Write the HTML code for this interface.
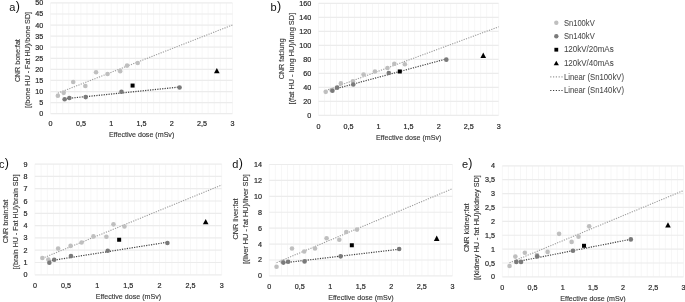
<!DOCTYPE html>
<html><head><meta charset="utf-8"><style>
html,body{margin:0;padding:0;background:#fff;width:685px;height:302px;overflow:hidden}
svg{display:block;font-family:"Liberation Sans",sans-serif;filter:blur(0.45px)}
</style></head><body>
<svg width="685" height="302" viewBox="0 0 685 302">
<rect width="685" height="302" fill="#fff"/>
<!-- chart a -->
<line x1="50.60" y1="2.90" x2="50.60" y2="113.70" stroke="#f7f7f7" stroke-width="1.0"/>
<line x1="56.66" y1="2.90" x2="56.66" y2="113.70" stroke="#f7f7f7" stroke-width="1.0"/>
<line x1="62.72" y1="2.90" x2="62.72" y2="113.70" stroke="#f7f7f7" stroke-width="1.0"/>
<line x1="68.78" y1="2.90" x2="68.78" y2="113.70" stroke="#f7f7f7" stroke-width="1.0"/>
<line x1="74.84" y1="2.90" x2="74.84" y2="113.70" stroke="#f7f7f7" stroke-width="1.0"/>
<line x1="80.90" y1="2.90" x2="80.90" y2="113.70" stroke="#f7f7f7" stroke-width="1.0"/>
<line x1="86.96" y1="2.90" x2="86.96" y2="113.70" stroke="#f7f7f7" stroke-width="1.0"/>
<line x1="93.02" y1="2.90" x2="93.02" y2="113.70" stroke="#f7f7f7" stroke-width="1.0"/>
<line x1="99.08" y1="2.90" x2="99.08" y2="113.70" stroke="#f7f7f7" stroke-width="1.0"/>
<line x1="105.14" y1="2.90" x2="105.14" y2="113.70" stroke="#f7f7f7" stroke-width="1.0"/>
<line x1="111.20" y1="2.90" x2="111.20" y2="113.70" stroke="#f7f7f7" stroke-width="1.0"/>
<line x1="117.26" y1="2.90" x2="117.26" y2="113.70" stroke="#f7f7f7" stroke-width="1.0"/>
<line x1="123.32" y1="2.90" x2="123.32" y2="113.70" stroke="#f7f7f7" stroke-width="1.0"/>
<line x1="129.38" y1="2.90" x2="129.38" y2="113.70" stroke="#f7f7f7" stroke-width="1.0"/>
<line x1="135.44" y1="2.90" x2="135.44" y2="113.70" stroke="#f7f7f7" stroke-width="1.0"/>
<line x1="141.50" y1="2.90" x2="141.50" y2="113.70" stroke="#f7f7f7" stroke-width="1.0"/>
<line x1="147.56" y1="2.90" x2="147.56" y2="113.70" stroke="#f7f7f7" stroke-width="1.0"/>
<line x1="153.62" y1="2.90" x2="153.62" y2="113.70" stroke="#f7f7f7" stroke-width="1.0"/>
<line x1="159.68" y1="2.90" x2="159.68" y2="113.70" stroke="#f7f7f7" stroke-width="1.0"/>
<line x1="165.74" y1="2.90" x2="165.74" y2="113.70" stroke="#f7f7f7" stroke-width="1.0"/>
<line x1="171.80" y1="2.90" x2="171.80" y2="113.70" stroke="#f7f7f7" stroke-width="1.0"/>
<line x1="177.86" y1="2.90" x2="177.86" y2="113.70" stroke="#f7f7f7" stroke-width="1.0"/>
<line x1="183.92" y1="2.90" x2="183.92" y2="113.70" stroke="#f7f7f7" stroke-width="1.0"/>
<line x1="189.98" y1="2.90" x2="189.98" y2="113.70" stroke="#f7f7f7" stroke-width="1.0"/>
<line x1="196.04" y1="2.90" x2="196.04" y2="113.70" stroke="#f7f7f7" stroke-width="1.0"/>
<line x1="202.10" y1="2.90" x2="202.10" y2="113.70" stroke="#f7f7f7" stroke-width="1.0"/>
<line x1="208.16" y1="2.90" x2="208.16" y2="113.70" stroke="#f7f7f7" stroke-width="1.0"/>
<line x1="214.22" y1="2.90" x2="214.22" y2="113.70" stroke="#f7f7f7" stroke-width="1.0"/>
<line x1="220.28" y1="2.90" x2="220.28" y2="113.70" stroke="#f7f7f7" stroke-width="1.0"/>
<line x1="226.34" y1="2.90" x2="226.34" y2="113.70" stroke="#f7f7f7" stroke-width="1.0"/>
<line x1="232.40" y1="2.90" x2="232.40" y2="113.70" stroke="#f7f7f7" stroke-width="1.0"/>
<line x1="50.60" y1="113.70" x2="232.40" y2="113.70" stroke="#ececec" stroke-width="1.2"/>
<text x="43.30" y="116.20" text-anchor="end" font-size="7.9" textLength="4.00" lengthAdjust="spacingAndGlyphs" fill="#2a2a2a" stroke="#2a2a2a" stroke-width="0.22">0</text>
<line x1="50.60" y1="102.62" x2="232.40" y2="102.62" stroke="#ececec" stroke-width="1.2"/>
<text x="43.30" y="105.12" text-anchor="end" font-size="7.9" textLength="4.00" lengthAdjust="spacingAndGlyphs" fill="#2a2a2a" stroke="#2a2a2a" stroke-width="0.22">5</text>
<line x1="50.60" y1="91.54" x2="232.40" y2="91.54" stroke="#ececec" stroke-width="1.2"/>
<text x="43.30" y="94.04" text-anchor="end" font-size="7.9" textLength="8.01" lengthAdjust="spacingAndGlyphs" fill="#2a2a2a" stroke="#2a2a2a" stroke-width="0.22">10</text>
<line x1="50.60" y1="80.46" x2="232.40" y2="80.46" stroke="#ececec" stroke-width="1.2"/>
<text x="43.30" y="82.96" text-anchor="end" font-size="7.9" textLength="8.01" lengthAdjust="spacingAndGlyphs" fill="#2a2a2a" stroke="#2a2a2a" stroke-width="0.22">15</text>
<line x1="50.60" y1="69.38" x2="232.40" y2="69.38" stroke="#ececec" stroke-width="1.2"/>
<text x="43.30" y="71.88" text-anchor="end" font-size="7.9" textLength="8.01" lengthAdjust="spacingAndGlyphs" fill="#2a2a2a" stroke="#2a2a2a" stroke-width="0.22">20</text>
<line x1="50.60" y1="58.30" x2="232.40" y2="58.30" stroke="#ececec" stroke-width="1.2"/>
<text x="43.30" y="60.80" text-anchor="end" font-size="7.9" textLength="8.01" lengthAdjust="spacingAndGlyphs" fill="#2a2a2a" stroke="#2a2a2a" stroke-width="0.22">25</text>
<line x1="50.60" y1="47.22" x2="232.40" y2="47.22" stroke="#ececec" stroke-width="1.2"/>
<text x="43.30" y="49.72" text-anchor="end" font-size="7.9" textLength="8.01" lengthAdjust="spacingAndGlyphs" fill="#2a2a2a" stroke="#2a2a2a" stroke-width="0.22">30</text>
<line x1="50.60" y1="36.14" x2="232.40" y2="36.14" stroke="#ececec" stroke-width="1.2"/>
<text x="43.30" y="38.64" text-anchor="end" font-size="7.9" textLength="8.01" lengthAdjust="spacingAndGlyphs" fill="#2a2a2a" stroke="#2a2a2a" stroke-width="0.22">35</text>
<line x1="50.60" y1="25.06" x2="232.40" y2="25.06" stroke="#ececec" stroke-width="1.2"/>
<text x="43.30" y="27.56" text-anchor="end" font-size="7.9" textLength="8.01" lengthAdjust="spacingAndGlyphs" fill="#2a2a2a" stroke="#2a2a2a" stroke-width="0.22">40</text>
<line x1="50.60" y1="13.98" x2="232.40" y2="13.98" stroke="#ececec" stroke-width="1.2"/>
<text x="43.30" y="16.48" text-anchor="end" font-size="7.9" textLength="8.01" lengthAdjust="spacingAndGlyphs" fill="#2a2a2a" stroke="#2a2a2a" stroke-width="0.22">45</text>
<line x1="50.60" y1="2.90" x2="232.40" y2="2.90" stroke="#ececec" stroke-width="1.2"/>
<text x="43.30" y="5.40" text-anchor="end" font-size="7.9" textLength="8.01" lengthAdjust="spacingAndGlyphs" fill="#2a2a2a" stroke="#2a2a2a" stroke-width="0.22">50</text>
<text x="50.60" y="126.10" text-anchor="middle" font-size="7.9" textLength="4.00" lengthAdjust="spacingAndGlyphs" fill="#2a2a2a" stroke="#2a2a2a" stroke-width="0.22">0</text>
<text x="80.90" y="126.10" text-anchor="middle" font-size="7.9" textLength="10.01" lengthAdjust="spacingAndGlyphs" fill="#2a2a2a" stroke="#2a2a2a" stroke-width="0.22">0,5</text>
<text x="111.20" y="126.10" text-anchor="middle" font-size="7.9" textLength="4.00" lengthAdjust="spacingAndGlyphs" fill="#2a2a2a" stroke="#2a2a2a" stroke-width="0.22">1</text>
<text x="141.50" y="126.10" text-anchor="middle" font-size="7.9" textLength="10.01" lengthAdjust="spacingAndGlyphs" fill="#2a2a2a" stroke="#2a2a2a" stroke-width="0.22">1,5</text>
<text x="171.80" y="126.10" text-anchor="middle" font-size="7.9" textLength="4.00" lengthAdjust="spacingAndGlyphs" fill="#2a2a2a" stroke="#2a2a2a" stroke-width="0.22">2</text>
<text x="202.10" y="126.10" text-anchor="middle" font-size="7.9" textLength="10.01" lengthAdjust="spacingAndGlyphs" fill="#2a2a2a" stroke="#2a2a2a" stroke-width="0.22">2,5</text>
<text x="232.40" y="126.10" text-anchor="middle" font-size="7.9" textLength="4.00" lengthAdjust="spacingAndGlyphs" fill="#2a2a2a" stroke="#2a2a2a" stroke-width="0.22">3</text>
<text x="108.90" y="137.20" textLength="65.4" lengthAdjust="spacingAndGlyphs" font-size="7.8" fill="#363636" stroke="#363636" stroke-width="0.14">Effective dose (mSv)</text>
<text transform="translate(20.00,82.10) rotate(-90)" textLength="42.9" lengthAdjust="spacingAndGlyphs" font-size="7.3" fill="#363636" stroke="#363636" stroke-width="0.14">CNR bone:fat</text>
<text transform="translate(30.00,108.10) rotate(-90)" textLength="96.2" lengthAdjust="spacingAndGlyphs" font-size="7.3" fill="#363636" stroke="#363636" stroke-width="0.14">[(bone HU - Fat HU)/bone SD]</text>
<line x1="57.87" y1="93.16" x2="232.40" y2="25.02" stroke="#9c9c9c" stroke-width="1.1" stroke-dasharray="1.2 1.25"/>
<line x1="64.66" y1="98.77" x2="179.56" y2="87.03" stroke="#404040" stroke-width="1.2" stroke-dasharray="1.2 1.25"/>
<circle cx="57.87" cy="95.75" r="2.3" fill="#bfbfbf"/>
<circle cx="63.69" cy="92.87" r="2.3" fill="#bfbfbf"/>
<circle cx="73.20" cy="82.01" r="2.3" fill="#bfbfbf"/>
<circle cx="85.32" cy="86.00" r="2.3" fill="#bfbfbf"/>
<circle cx="96.05" cy="72.26" r="2.3" fill="#bfbfbf"/>
<circle cx="107.56" cy="74.03" r="2.3" fill="#bfbfbf"/>
<circle cx="120.17" cy="71.15" r="2.3" fill="#bfbfbf"/>
<circle cx="127.08" cy="65.61" r="2.3" fill="#bfbfbf"/>
<circle cx="137.74" cy="62.95" r="2.3" fill="#bfbfbf"/>
<circle cx="64.66" cy="99.30" r="2.3" fill="#7a7a7a"/>
<circle cx="69.39" cy="97.97" r="2.3" fill="#7a7a7a"/>
<circle cx="85.69" cy="97.08" r="2.3" fill="#7a7a7a"/>
<circle cx="121.50" cy="91.76" r="2.3" fill="#7a7a7a"/>
<circle cx="179.56" cy="87.55" r="2.3" fill="#7a7a7a"/>
<rect x="130.59" y="83.56" width="4.0" height="4.0" fill="#000"/>
<polygon points="216.83,67.91 219.63,73.23 214.03,73.23" fill="#000"/>
<text x="9.30" y="10.60" font-size="11" fill="#111">a<tspan font-size="12.5" dx="0.3" dy="-0.3">)</tspan></text>
<!-- chart b -->
<line x1="318.50" y1="3.30" x2="318.50" y2="115.40" stroke="#f7f7f7" stroke-width="1.0"/>
<line x1="324.51" y1="3.30" x2="324.51" y2="115.40" stroke="#f7f7f7" stroke-width="1.0"/>
<line x1="330.51" y1="3.30" x2="330.51" y2="115.40" stroke="#f7f7f7" stroke-width="1.0"/>
<line x1="336.52" y1="3.30" x2="336.52" y2="115.40" stroke="#f7f7f7" stroke-width="1.0"/>
<line x1="342.53" y1="3.30" x2="342.53" y2="115.40" stroke="#f7f7f7" stroke-width="1.0"/>
<line x1="348.53" y1="3.30" x2="348.53" y2="115.40" stroke="#f7f7f7" stroke-width="1.0"/>
<line x1="354.54" y1="3.30" x2="354.54" y2="115.40" stroke="#f7f7f7" stroke-width="1.0"/>
<line x1="360.55" y1="3.30" x2="360.55" y2="115.40" stroke="#f7f7f7" stroke-width="1.0"/>
<line x1="366.55" y1="3.30" x2="366.55" y2="115.40" stroke="#f7f7f7" stroke-width="1.0"/>
<line x1="372.56" y1="3.30" x2="372.56" y2="115.40" stroke="#f7f7f7" stroke-width="1.0"/>
<line x1="378.57" y1="3.30" x2="378.57" y2="115.40" stroke="#f7f7f7" stroke-width="1.0"/>
<line x1="384.57" y1="3.30" x2="384.57" y2="115.40" stroke="#f7f7f7" stroke-width="1.0"/>
<line x1="390.58" y1="3.30" x2="390.58" y2="115.40" stroke="#f7f7f7" stroke-width="1.0"/>
<line x1="396.59" y1="3.30" x2="396.59" y2="115.40" stroke="#f7f7f7" stroke-width="1.0"/>
<line x1="402.59" y1="3.30" x2="402.59" y2="115.40" stroke="#f7f7f7" stroke-width="1.0"/>
<line x1="408.60" y1="3.30" x2="408.60" y2="115.40" stroke="#f7f7f7" stroke-width="1.0"/>
<line x1="414.61" y1="3.30" x2="414.61" y2="115.40" stroke="#f7f7f7" stroke-width="1.0"/>
<line x1="420.61" y1="3.30" x2="420.61" y2="115.40" stroke="#f7f7f7" stroke-width="1.0"/>
<line x1="426.62" y1="3.30" x2="426.62" y2="115.40" stroke="#f7f7f7" stroke-width="1.0"/>
<line x1="432.63" y1="3.30" x2="432.63" y2="115.40" stroke="#f7f7f7" stroke-width="1.0"/>
<line x1="438.63" y1="3.30" x2="438.63" y2="115.40" stroke="#f7f7f7" stroke-width="1.0"/>
<line x1="444.64" y1="3.30" x2="444.64" y2="115.40" stroke="#f7f7f7" stroke-width="1.0"/>
<line x1="450.65" y1="3.30" x2="450.65" y2="115.40" stroke="#f7f7f7" stroke-width="1.0"/>
<line x1="456.65" y1="3.30" x2="456.65" y2="115.40" stroke="#f7f7f7" stroke-width="1.0"/>
<line x1="462.66" y1="3.30" x2="462.66" y2="115.40" stroke="#f7f7f7" stroke-width="1.0"/>
<line x1="468.67" y1="3.30" x2="468.67" y2="115.40" stroke="#f7f7f7" stroke-width="1.0"/>
<line x1="474.67" y1="3.30" x2="474.67" y2="115.40" stroke="#f7f7f7" stroke-width="1.0"/>
<line x1="480.68" y1="3.30" x2="480.68" y2="115.40" stroke="#f7f7f7" stroke-width="1.0"/>
<line x1="486.69" y1="3.30" x2="486.69" y2="115.40" stroke="#f7f7f7" stroke-width="1.0"/>
<line x1="492.69" y1="3.30" x2="492.69" y2="115.40" stroke="#f7f7f7" stroke-width="1.0"/>
<line x1="498.70" y1="3.30" x2="498.70" y2="115.40" stroke="#f7f7f7" stroke-width="1.0"/>
<line x1="318.50" y1="115.40" x2="498.70" y2="115.40" stroke="#ececec" stroke-width="1.2"/>
<text x="311.20" y="117.90" text-anchor="end" font-size="7.9" textLength="4.00" lengthAdjust="spacingAndGlyphs" fill="#2a2a2a" stroke="#2a2a2a" stroke-width="0.22">0</text>
<line x1="318.50" y1="101.39" x2="498.70" y2="101.39" stroke="#ececec" stroke-width="1.2"/>
<text x="311.20" y="103.89" text-anchor="end" font-size="7.9" textLength="8.01" lengthAdjust="spacingAndGlyphs" fill="#2a2a2a" stroke="#2a2a2a" stroke-width="0.22">20</text>
<line x1="318.50" y1="87.38" x2="498.70" y2="87.38" stroke="#ececec" stroke-width="1.2"/>
<text x="311.20" y="89.88" text-anchor="end" font-size="7.9" textLength="8.01" lengthAdjust="spacingAndGlyphs" fill="#2a2a2a" stroke="#2a2a2a" stroke-width="0.22">40</text>
<line x1="318.50" y1="73.36" x2="498.70" y2="73.36" stroke="#ececec" stroke-width="1.2"/>
<text x="311.20" y="75.86" text-anchor="end" font-size="7.9" textLength="8.01" lengthAdjust="spacingAndGlyphs" fill="#2a2a2a" stroke="#2a2a2a" stroke-width="0.22">60</text>
<line x1="318.50" y1="59.35" x2="498.70" y2="59.35" stroke="#ececec" stroke-width="1.2"/>
<text x="311.20" y="61.85" text-anchor="end" font-size="7.9" textLength="8.01" lengthAdjust="spacingAndGlyphs" fill="#2a2a2a" stroke="#2a2a2a" stroke-width="0.22">80</text>
<line x1="318.50" y1="45.34" x2="498.70" y2="45.34" stroke="#ececec" stroke-width="1.2"/>
<text x="311.20" y="47.84" text-anchor="end" font-size="7.9" textLength="12.01" lengthAdjust="spacingAndGlyphs" fill="#2a2a2a" stroke="#2a2a2a" stroke-width="0.22">100</text>
<line x1="318.50" y1="31.33" x2="498.70" y2="31.33" stroke="#ececec" stroke-width="1.2"/>
<text x="311.20" y="33.83" text-anchor="end" font-size="7.9" textLength="12.01" lengthAdjust="spacingAndGlyphs" fill="#2a2a2a" stroke="#2a2a2a" stroke-width="0.22">120</text>
<line x1="318.50" y1="17.31" x2="498.70" y2="17.31" stroke="#ececec" stroke-width="1.2"/>
<text x="311.20" y="19.81" text-anchor="end" font-size="7.9" textLength="12.01" lengthAdjust="spacingAndGlyphs" fill="#2a2a2a" stroke="#2a2a2a" stroke-width="0.22">140</text>
<line x1="318.50" y1="3.30" x2="498.70" y2="3.30" stroke="#ececec" stroke-width="1.2"/>
<text x="311.20" y="5.80" text-anchor="end" font-size="7.9" textLength="12.01" lengthAdjust="spacingAndGlyphs" fill="#2a2a2a" stroke="#2a2a2a" stroke-width="0.22">160</text>
<text x="318.50" y="128.60" text-anchor="middle" font-size="7.9" textLength="4.00" lengthAdjust="spacingAndGlyphs" fill="#2a2a2a" stroke="#2a2a2a" stroke-width="0.22">0</text>
<text x="348.53" y="128.60" text-anchor="middle" font-size="7.9" textLength="10.01" lengthAdjust="spacingAndGlyphs" fill="#2a2a2a" stroke="#2a2a2a" stroke-width="0.22">0,5</text>
<text x="378.57" y="128.60" text-anchor="middle" font-size="7.9" textLength="4.00" lengthAdjust="spacingAndGlyphs" fill="#2a2a2a" stroke="#2a2a2a" stroke-width="0.22">1</text>
<text x="408.60" y="128.60" text-anchor="middle" font-size="7.9" textLength="10.01" lengthAdjust="spacingAndGlyphs" fill="#2a2a2a" stroke="#2a2a2a" stroke-width="0.22">1,5</text>
<text x="438.63" y="128.60" text-anchor="middle" font-size="7.9" textLength="4.00" lengthAdjust="spacingAndGlyphs" fill="#2a2a2a" stroke="#2a2a2a" stroke-width="0.22">2</text>
<text x="468.67" y="128.60" text-anchor="middle" font-size="7.9" textLength="10.01" lengthAdjust="spacingAndGlyphs" fill="#2a2a2a" stroke="#2a2a2a" stroke-width="0.22">2,5</text>
<text x="498.70" y="128.60" text-anchor="middle" font-size="7.9" textLength="4.00" lengthAdjust="spacingAndGlyphs" fill="#2a2a2a" stroke="#2a2a2a" stroke-width="0.22">3</text>
<text x="376.00" y="140.10" textLength="65.4" lengthAdjust="spacingAndGlyphs" font-size="7.8" fill="#363636" stroke="#363636" stroke-width="0.14">Effective dose (mSv)</text>
<text transform="translate(284.10,79.20) rotate(-90)" textLength="40.8" lengthAdjust="spacingAndGlyphs" font-size="7.3" fill="#363636" stroke="#363636" stroke-width="0.14">CNR fat:lung</text>
<text transform="translate(294.10,104.40) rotate(-90)" textLength="91.6" lengthAdjust="spacingAndGlyphs" font-size="7.3" fill="#363636" stroke="#363636" stroke-width="0.14">[(fat HU - lung HU)/lung SD]</text>
<line x1="325.71" y1="90.64" x2="498.70" y2="26.81" stroke="#9c9c9c" stroke-width="1.1" stroke-dasharray="1.2 1.25"/>
<line x1="332.44" y1="89.68" x2="446.32" y2="58.93" stroke="#404040" stroke-width="1.2" stroke-dasharray="1.2 1.25"/>
<circle cx="325.71" cy="91.86" r="2.3" fill="#bfbfbf"/>
<circle cx="331.47" cy="89.97" r="2.3" fill="#bfbfbf"/>
<circle cx="340.90" cy="83.38" r="2.3" fill="#bfbfbf"/>
<circle cx="352.92" cy="81.28" r="2.3" fill="#bfbfbf"/>
<circle cx="363.55" cy="74.48" r="2.3" fill="#bfbfbf"/>
<circle cx="374.96" cy="71.54" r="2.3" fill="#bfbfbf"/>
<circle cx="387.46" cy="68.04" r="2.3" fill="#bfbfbf"/>
<circle cx="394.30" cy="63.76" r="2.3" fill="#bfbfbf"/>
<circle cx="404.88" cy="64.25" r="2.3" fill="#bfbfbf"/>
<circle cx="332.44" cy="90.81" r="2.3" fill="#7a7a7a"/>
<circle cx="337.12" cy="87.66" r="2.3" fill="#7a7a7a"/>
<circle cx="353.28" cy="84.50" r="2.3" fill="#7a7a7a"/>
<circle cx="388.78" cy="72.94" r="2.3" fill="#7a7a7a"/>
<circle cx="446.32" cy="59.63" r="2.3" fill="#7a7a7a"/>
<rect x="397.77" y="69.47" width="4.0" height="4.0" fill="#000"/>
<polygon points="483.26,52.56 486.06,57.88 480.46,57.88" fill="#000"/>
<text x="270.50" y="10.50" font-size="11" fill="#111">b<tspan font-size="12.5" dx="0.3" dy="-0.3">)</tspan></text>
<!-- chart c -->
<line x1="34.90" y1="164.10" x2="34.90" y2="274.80" stroke="#f7f7f7" stroke-width="1.0"/>
<line x1="41.13" y1="164.10" x2="41.13" y2="274.80" stroke="#f7f7f7" stroke-width="1.0"/>
<line x1="47.35" y1="164.10" x2="47.35" y2="274.80" stroke="#f7f7f7" stroke-width="1.0"/>
<line x1="53.58" y1="164.10" x2="53.58" y2="274.80" stroke="#f7f7f7" stroke-width="1.0"/>
<line x1="59.81" y1="164.10" x2="59.81" y2="274.80" stroke="#f7f7f7" stroke-width="1.0"/>
<line x1="66.03" y1="164.10" x2="66.03" y2="274.80" stroke="#f7f7f7" stroke-width="1.0"/>
<line x1="72.26" y1="164.10" x2="72.26" y2="274.80" stroke="#f7f7f7" stroke-width="1.0"/>
<line x1="78.49" y1="164.10" x2="78.49" y2="274.80" stroke="#f7f7f7" stroke-width="1.0"/>
<line x1="84.71" y1="164.10" x2="84.71" y2="274.80" stroke="#f7f7f7" stroke-width="1.0"/>
<line x1="90.94" y1="164.10" x2="90.94" y2="274.80" stroke="#f7f7f7" stroke-width="1.0"/>
<line x1="97.17" y1="164.10" x2="97.17" y2="274.80" stroke="#f7f7f7" stroke-width="1.0"/>
<line x1="103.39" y1="164.10" x2="103.39" y2="274.80" stroke="#f7f7f7" stroke-width="1.0"/>
<line x1="109.62" y1="164.10" x2="109.62" y2="274.80" stroke="#f7f7f7" stroke-width="1.0"/>
<line x1="115.85" y1="164.10" x2="115.85" y2="274.80" stroke="#f7f7f7" stroke-width="1.0"/>
<line x1="122.07" y1="164.10" x2="122.07" y2="274.80" stroke="#f7f7f7" stroke-width="1.0"/>
<line x1="128.30" y1="164.10" x2="128.30" y2="274.80" stroke="#f7f7f7" stroke-width="1.0"/>
<line x1="134.53" y1="164.10" x2="134.53" y2="274.80" stroke="#f7f7f7" stroke-width="1.0"/>
<line x1="140.75" y1="164.10" x2="140.75" y2="274.80" stroke="#f7f7f7" stroke-width="1.0"/>
<line x1="146.98" y1="164.10" x2="146.98" y2="274.80" stroke="#f7f7f7" stroke-width="1.0"/>
<line x1="153.21" y1="164.10" x2="153.21" y2="274.80" stroke="#f7f7f7" stroke-width="1.0"/>
<line x1="159.43" y1="164.10" x2="159.43" y2="274.80" stroke="#f7f7f7" stroke-width="1.0"/>
<line x1="165.66" y1="164.10" x2="165.66" y2="274.80" stroke="#f7f7f7" stroke-width="1.0"/>
<line x1="171.89" y1="164.10" x2="171.89" y2="274.80" stroke="#f7f7f7" stroke-width="1.0"/>
<line x1="178.11" y1="164.10" x2="178.11" y2="274.80" stroke="#f7f7f7" stroke-width="1.0"/>
<line x1="184.34" y1="164.10" x2="184.34" y2="274.80" stroke="#f7f7f7" stroke-width="1.0"/>
<line x1="190.57" y1="164.10" x2="190.57" y2="274.80" stroke="#f7f7f7" stroke-width="1.0"/>
<line x1="196.79" y1="164.10" x2="196.79" y2="274.80" stroke="#f7f7f7" stroke-width="1.0"/>
<line x1="203.02" y1="164.10" x2="203.02" y2="274.80" stroke="#f7f7f7" stroke-width="1.0"/>
<line x1="209.25" y1="164.10" x2="209.25" y2="274.80" stroke="#f7f7f7" stroke-width="1.0"/>
<line x1="215.47" y1="164.10" x2="215.47" y2="274.80" stroke="#f7f7f7" stroke-width="1.0"/>
<line x1="221.70" y1="164.10" x2="221.70" y2="274.80" stroke="#f7f7f7" stroke-width="1.0"/>
<line x1="34.90" y1="274.80" x2="221.70" y2="274.80" stroke="#ececec" stroke-width="1.2"/>
<text x="27.60" y="277.30" text-anchor="end" font-size="7.9" textLength="4.00" lengthAdjust="spacingAndGlyphs" fill="#2a2a2a" stroke="#2a2a2a" stroke-width="0.22">0</text>
<line x1="34.90" y1="262.50" x2="221.70" y2="262.50" stroke="#ececec" stroke-width="1.2"/>
<text x="27.60" y="265.00" text-anchor="end" font-size="7.9" textLength="4.00" lengthAdjust="spacingAndGlyphs" fill="#2a2a2a" stroke="#2a2a2a" stroke-width="0.22">1</text>
<line x1="34.90" y1="250.20" x2="221.70" y2="250.20" stroke="#ececec" stroke-width="1.2"/>
<text x="27.60" y="252.70" text-anchor="end" font-size="7.9" textLength="4.00" lengthAdjust="spacingAndGlyphs" fill="#2a2a2a" stroke="#2a2a2a" stroke-width="0.22">2</text>
<line x1="34.90" y1="237.90" x2="221.70" y2="237.90" stroke="#ececec" stroke-width="1.2"/>
<text x="27.60" y="240.40" text-anchor="end" font-size="7.9" textLength="4.00" lengthAdjust="spacingAndGlyphs" fill="#2a2a2a" stroke="#2a2a2a" stroke-width="0.22">3</text>
<line x1="34.90" y1="225.60" x2="221.70" y2="225.60" stroke="#ececec" stroke-width="1.2"/>
<text x="27.60" y="228.10" text-anchor="end" font-size="7.9" textLength="4.00" lengthAdjust="spacingAndGlyphs" fill="#2a2a2a" stroke="#2a2a2a" stroke-width="0.22">4</text>
<line x1="34.90" y1="213.30" x2="221.70" y2="213.30" stroke="#ececec" stroke-width="1.2"/>
<text x="27.60" y="215.80" text-anchor="end" font-size="7.9" textLength="4.00" lengthAdjust="spacingAndGlyphs" fill="#2a2a2a" stroke="#2a2a2a" stroke-width="0.22">5</text>
<line x1="34.90" y1="201.00" x2="221.70" y2="201.00" stroke="#ececec" stroke-width="1.2"/>
<text x="27.60" y="203.50" text-anchor="end" font-size="7.9" textLength="4.00" lengthAdjust="spacingAndGlyphs" fill="#2a2a2a" stroke="#2a2a2a" stroke-width="0.22">6</text>
<line x1="34.90" y1="188.70" x2="221.70" y2="188.70" stroke="#ececec" stroke-width="1.2"/>
<text x="27.60" y="191.20" text-anchor="end" font-size="7.9" textLength="4.00" lengthAdjust="spacingAndGlyphs" fill="#2a2a2a" stroke="#2a2a2a" stroke-width="0.22">7</text>
<line x1="34.90" y1="176.40" x2="221.70" y2="176.40" stroke="#ececec" stroke-width="1.2"/>
<text x="27.60" y="178.90" text-anchor="end" font-size="7.9" textLength="4.00" lengthAdjust="spacingAndGlyphs" fill="#2a2a2a" stroke="#2a2a2a" stroke-width="0.22">8</text>
<line x1="34.90" y1="164.10" x2="221.70" y2="164.10" stroke="#ececec" stroke-width="1.2"/>
<text x="27.60" y="166.60" text-anchor="end" font-size="7.9" textLength="4.00" lengthAdjust="spacingAndGlyphs" fill="#2a2a2a" stroke="#2a2a2a" stroke-width="0.22">9</text>
<text x="34.90" y="287.60" text-anchor="middle" font-size="7.9" textLength="4.00" lengthAdjust="spacingAndGlyphs" fill="#2a2a2a" stroke="#2a2a2a" stroke-width="0.22">0</text>
<text x="66.03" y="287.60" text-anchor="middle" font-size="7.9" textLength="10.01" lengthAdjust="spacingAndGlyphs" fill="#2a2a2a" stroke="#2a2a2a" stroke-width="0.22">0,5</text>
<text x="97.17" y="287.60" text-anchor="middle" font-size="7.9" textLength="4.00" lengthAdjust="spacingAndGlyphs" fill="#2a2a2a" stroke="#2a2a2a" stroke-width="0.22">1</text>
<text x="128.30" y="287.60" text-anchor="middle" font-size="7.9" textLength="10.01" lengthAdjust="spacingAndGlyphs" fill="#2a2a2a" stroke="#2a2a2a" stroke-width="0.22">1,5</text>
<text x="159.43" y="287.60" text-anchor="middle" font-size="7.9" textLength="4.00" lengthAdjust="spacingAndGlyphs" fill="#2a2a2a" stroke="#2a2a2a" stroke-width="0.22">2</text>
<text x="190.57" y="287.60" text-anchor="middle" font-size="7.9" textLength="10.01" lengthAdjust="spacingAndGlyphs" fill="#2a2a2a" stroke="#2a2a2a" stroke-width="0.22">2,5</text>
<text x="221.70" y="287.60" text-anchor="middle" font-size="7.9" textLength="4.00" lengthAdjust="spacingAndGlyphs" fill="#2a2a2a" stroke="#2a2a2a" stroke-width="0.22">3</text>
<text x="95.70" y="298.90" textLength="65.4" lengthAdjust="spacingAndGlyphs" font-size="7.8" fill="#363636" stroke="#363636" stroke-width="0.14">Effective dose (mSv)</text>
<text transform="translate(7.90,243.30) rotate(-90)" textLength="43.6" lengthAdjust="spacingAndGlyphs" font-size="7.3" fill="#363636" stroke="#363636" stroke-width="0.14">CNR brain:fat</text>
<text transform="translate(18.40,269.40) rotate(-90)" textLength="95.1" lengthAdjust="spacingAndGlyphs" font-size="7.3" fill="#363636" stroke="#363636" stroke-width="0.14">[(brain HU - Fat HU)/brain SD]</text>
<line x1="42.37" y1="258.27" x2="221.70" y2="184.99" stroke="#9c9c9c" stroke-width="1.1" stroke-dasharray="1.2 1.25"/>
<line x1="49.35" y1="260.87" x2="167.40" y2="242.21" stroke="#404040" stroke-width="1.2" stroke-dasharray="1.2 1.25"/>
<circle cx="42.37" cy="258.07" r="2.3" fill="#bfbfbf"/>
<circle cx="48.35" cy="259.43" r="2.3" fill="#bfbfbf"/>
<circle cx="58.13" cy="248.48" r="2.3" fill="#bfbfbf"/>
<circle cx="70.58" cy="245.90" r="2.3" fill="#bfbfbf"/>
<circle cx="81.60" cy="242.45" r="2.3" fill="#bfbfbf"/>
<circle cx="93.43" cy="236.42" r="2.3" fill="#bfbfbf"/>
<circle cx="106.38" cy="236.79" r="2.3" fill="#bfbfbf"/>
<circle cx="113.48" cy="224.37" r="2.3" fill="#bfbfbf"/>
<circle cx="124.44" cy="226.46" r="2.3" fill="#bfbfbf"/>
<circle cx="49.35" cy="262.75" r="2.3" fill="#7a7a7a"/>
<circle cx="54.20" cy="259.79" r="2.3" fill="#7a7a7a"/>
<circle cx="70.95" cy="256.10" r="2.3" fill="#7a7a7a"/>
<circle cx="107.75" cy="250.69" r="2.3" fill="#7a7a7a"/>
<circle cx="167.40" cy="242.94" r="2.3" fill="#7a7a7a"/>
<rect x="117.15" y="237.75" width="4.0" height="4.0" fill="#000"/>
<polygon points="205.70,218.99 208.50,224.31 202.90,224.31" fill="#000"/>
<text x="-1.00" y="167.50" font-size="11" fill="#111">c<tspan font-size="12.5" dx="0.3" dy="-0.3">)</tspan></text>
<!-- chart d -->
<line x1="269.20" y1="164.50" x2="269.20" y2="275.90" stroke="#f7f7f7" stroke-width="1.0"/>
<line x1="275.31" y1="164.50" x2="275.31" y2="275.90" stroke="#f7f7f7" stroke-width="1.0"/>
<line x1="281.41" y1="164.50" x2="281.41" y2="275.90" stroke="#f7f7f7" stroke-width="1.0"/>
<line x1="287.52" y1="164.50" x2="287.52" y2="275.90" stroke="#f7f7f7" stroke-width="1.0"/>
<line x1="293.63" y1="164.50" x2="293.63" y2="275.90" stroke="#f7f7f7" stroke-width="1.0"/>
<line x1="299.73" y1="164.50" x2="299.73" y2="275.90" stroke="#f7f7f7" stroke-width="1.0"/>
<line x1="305.84" y1="164.50" x2="305.84" y2="275.90" stroke="#f7f7f7" stroke-width="1.0"/>
<line x1="311.95" y1="164.50" x2="311.95" y2="275.90" stroke="#f7f7f7" stroke-width="1.0"/>
<line x1="318.05" y1="164.50" x2="318.05" y2="275.90" stroke="#f7f7f7" stroke-width="1.0"/>
<line x1="324.16" y1="164.50" x2="324.16" y2="275.90" stroke="#f7f7f7" stroke-width="1.0"/>
<line x1="330.27" y1="164.50" x2="330.27" y2="275.90" stroke="#f7f7f7" stroke-width="1.0"/>
<line x1="336.37" y1="164.50" x2="336.37" y2="275.90" stroke="#f7f7f7" stroke-width="1.0"/>
<line x1="342.48" y1="164.50" x2="342.48" y2="275.90" stroke="#f7f7f7" stroke-width="1.0"/>
<line x1="348.59" y1="164.50" x2="348.59" y2="275.90" stroke="#f7f7f7" stroke-width="1.0"/>
<line x1="354.69" y1="164.50" x2="354.69" y2="275.90" stroke="#f7f7f7" stroke-width="1.0"/>
<line x1="360.80" y1="164.50" x2="360.80" y2="275.90" stroke="#f7f7f7" stroke-width="1.0"/>
<line x1="366.91" y1="164.50" x2="366.91" y2="275.90" stroke="#f7f7f7" stroke-width="1.0"/>
<line x1="373.01" y1="164.50" x2="373.01" y2="275.90" stroke="#f7f7f7" stroke-width="1.0"/>
<line x1="379.12" y1="164.50" x2="379.12" y2="275.90" stroke="#f7f7f7" stroke-width="1.0"/>
<line x1="385.23" y1="164.50" x2="385.23" y2="275.90" stroke="#f7f7f7" stroke-width="1.0"/>
<line x1="391.33" y1="164.50" x2="391.33" y2="275.90" stroke="#f7f7f7" stroke-width="1.0"/>
<line x1="397.44" y1="164.50" x2="397.44" y2="275.90" stroke="#f7f7f7" stroke-width="1.0"/>
<line x1="403.55" y1="164.50" x2="403.55" y2="275.90" stroke="#f7f7f7" stroke-width="1.0"/>
<line x1="409.65" y1="164.50" x2="409.65" y2="275.90" stroke="#f7f7f7" stroke-width="1.0"/>
<line x1="415.76" y1="164.50" x2="415.76" y2="275.90" stroke="#f7f7f7" stroke-width="1.0"/>
<line x1="421.87" y1="164.50" x2="421.87" y2="275.90" stroke="#f7f7f7" stroke-width="1.0"/>
<line x1="427.97" y1="164.50" x2="427.97" y2="275.90" stroke="#f7f7f7" stroke-width="1.0"/>
<line x1="434.08" y1="164.50" x2="434.08" y2="275.90" stroke="#f7f7f7" stroke-width="1.0"/>
<line x1="440.19" y1="164.50" x2="440.19" y2="275.90" stroke="#f7f7f7" stroke-width="1.0"/>
<line x1="446.29" y1="164.50" x2="446.29" y2="275.90" stroke="#f7f7f7" stroke-width="1.0"/>
<line x1="452.40" y1="164.50" x2="452.40" y2="275.90" stroke="#f7f7f7" stroke-width="1.0"/>
<line x1="269.20" y1="275.90" x2="452.40" y2="275.90" stroke="#ececec" stroke-width="1.2"/>
<text x="261.90" y="278.40" text-anchor="end" font-size="7.9" textLength="4.00" lengthAdjust="spacingAndGlyphs" fill="#2a2a2a" stroke="#2a2a2a" stroke-width="0.22">0</text>
<line x1="269.20" y1="259.99" x2="452.40" y2="259.99" stroke="#ececec" stroke-width="1.2"/>
<text x="261.90" y="262.49" text-anchor="end" font-size="7.9" textLength="4.00" lengthAdjust="spacingAndGlyphs" fill="#2a2a2a" stroke="#2a2a2a" stroke-width="0.22">2</text>
<line x1="269.20" y1="244.07" x2="452.40" y2="244.07" stroke="#ececec" stroke-width="1.2"/>
<text x="261.90" y="246.57" text-anchor="end" font-size="7.9" textLength="4.00" lengthAdjust="spacingAndGlyphs" fill="#2a2a2a" stroke="#2a2a2a" stroke-width="0.22">4</text>
<line x1="269.20" y1="228.16" x2="452.40" y2="228.16" stroke="#ececec" stroke-width="1.2"/>
<text x="261.90" y="230.66" text-anchor="end" font-size="7.9" textLength="4.00" lengthAdjust="spacingAndGlyphs" fill="#2a2a2a" stroke="#2a2a2a" stroke-width="0.22">6</text>
<line x1="269.20" y1="212.24" x2="452.40" y2="212.24" stroke="#ececec" stroke-width="1.2"/>
<text x="261.90" y="214.74" text-anchor="end" font-size="7.9" textLength="4.00" lengthAdjust="spacingAndGlyphs" fill="#2a2a2a" stroke="#2a2a2a" stroke-width="0.22">8</text>
<line x1="269.20" y1="196.33" x2="452.40" y2="196.33" stroke="#ececec" stroke-width="1.2"/>
<text x="261.90" y="198.83" text-anchor="end" font-size="7.9" textLength="8.01" lengthAdjust="spacingAndGlyphs" fill="#2a2a2a" stroke="#2a2a2a" stroke-width="0.22">10</text>
<line x1="269.20" y1="180.41" x2="452.40" y2="180.41" stroke="#ececec" stroke-width="1.2"/>
<text x="261.90" y="182.91" text-anchor="end" font-size="7.9" textLength="8.01" lengthAdjust="spacingAndGlyphs" fill="#2a2a2a" stroke="#2a2a2a" stroke-width="0.22">12</text>
<line x1="269.20" y1="164.50" x2="452.40" y2="164.50" stroke="#ececec" stroke-width="1.2"/>
<text x="261.90" y="167.00" text-anchor="end" font-size="7.9" textLength="8.01" lengthAdjust="spacingAndGlyphs" fill="#2a2a2a" stroke="#2a2a2a" stroke-width="0.22">14</text>
<text x="269.20" y="288.70" text-anchor="middle" font-size="7.9" textLength="4.00" lengthAdjust="spacingAndGlyphs" fill="#2a2a2a" stroke="#2a2a2a" stroke-width="0.22">0</text>
<text x="299.73" y="288.70" text-anchor="middle" font-size="7.9" textLength="10.01" lengthAdjust="spacingAndGlyphs" fill="#2a2a2a" stroke="#2a2a2a" stroke-width="0.22">0,5</text>
<text x="330.27" y="288.70" text-anchor="middle" font-size="7.9" textLength="4.00" lengthAdjust="spacingAndGlyphs" fill="#2a2a2a" stroke="#2a2a2a" stroke-width="0.22">1</text>
<text x="360.80" y="288.70" text-anchor="middle" font-size="7.9" textLength="10.01" lengthAdjust="spacingAndGlyphs" fill="#2a2a2a" stroke="#2a2a2a" stroke-width="0.22">1,5</text>
<text x="391.33" y="288.70" text-anchor="middle" font-size="7.9" textLength="4.00" lengthAdjust="spacingAndGlyphs" fill="#2a2a2a" stroke="#2a2a2a" stroke-width="0.22">2</text>
<text x="421.87" y="288.70" text-anchor="middle" font-size="7.9" textLength="10.01" lengthAdjust="spacingAndGlyphs" fill="#2a2a2a" stroke="#2a2a2a" stroke-width="0.22">2,5</text>
<text x="452.40" y="288.70" text-anchor="middle" font-size="7.9" textLength="4.00" lengthAdjust="spacingAndGlyphs" fill="#2a2a2a" stroke="#2a2a2a" stroke-width="0.22">3</text>
<text x="328.20" y="300.00" textLength="65.4" lengthAdjust="spacingAndGlyphs" font-size="7.8" fill="#363636" stroke="#363636" stroke-width="0.14">Effective dose (mSv)</text>
<text transform="translate(238.20,239.40) rotate(-90)" textLength="40.9" lengthAdjust="spacingAndGlyphs" font-size="7.3" fill="#363636" stroke="#363636" stroke-width="0.14">CNR liver:fat</text>
<text transform="translate(247.80,264.10) rotate(-90)" textLength="89.8" lengthAdjust="spacingAndGlyphs" font-size="7.3" fill="#363636" stroke="#363636" stroke-width="0.14">[(liver HU - fat HU)/liver SD]</text>
<line x1="276.53" y1="262.68" x2="452.40" y2="188.70" stroke="#9c9c9c" stroke-width="1.1" stroke-dasharray="1.2 1.25"/>
<line x1="283.37" y1="262.92" x2="399.15" y2="249.25" stroke="#404040" stroke-width="1.2" stroke-dasharray="1.2 1.25"/>
<circle cx="276.53" cy="266.75" r="2.3" fill="#bfbfbf"/>
<circle cx="282.39" cy="261.74" r="2.3" fill="#bfbfbf"/>
<circle cx="291.98" cy="248.53" r="2.3" fill="#bfbfbf"/>
<circle cx="304.19" cy="251.55" r="2.3" fill="#bfbfbf"/>
<circle cx="315.00" cy="248.53" r="2.3" fill="#bfbfbf"/>
<circle cx="326.60" cy="238.26" r="2.3" fill="#bfbfbf"/>
<circle cx="339.30" cy="239.77" r="2.3" fill="#bfbfbf"/>
<circle cx="346.27" cy="231.98" r="2.3" fill="#bfbfbf"/>
<circle cx="357.01" cy="229.59" r="2.3" fill="#bfbfbf"/>
<circle cx="283.37" cy="262.61" r="2.3" fill="#7a7a7a"/>
<circle cx="288.13" cy="261.74" r="2.3" fill="#7a7a7a"/>
<circle cx="304.56" cy="261.42" r="2.3" fill="#7a7a7a"/>
<circle cx="340.65" cy="256.33" r="2.3" fill="#7a7a7a"/>
<circle cx="399.15" cy="249.00" r="2.3" fill="#7a7a7a"/>
<rect x="349.82" y="243.26" width="4.0" height="4.0" fill="#000"/>
<polygon points="436.71,235.62 439.51,240.94 433.91,240.94" fill="#000"/>
<text x="232.30" y="167.50" font-size="11" fill="#111">d<tspan font-size="12.5" dx="0.3" dy="-0.3">)</tspan></text>
<!-- chart e -->
<line x1="502.30" y1="165.80" x2="502.30" y2="276.90" stroke="#f7f7f7" stroke-width="1.0"/>
<line x1="508.34" y1="165.80" x2="508.34" y2="276.90" stroke="#f7f7f7" stroke-width="1.0"/>
<line x1="514.38" y1="165.80" x2="514.38" y2="276.90" stroke="#f7f7f7" stroke-width="1.0"/>
<line x1="520.42" y1="165.80" x2="520.42" y2="276.90" stroke="#f7f7f7" stroke-width="1.0"/>
<line x1="526.46" y1="165.80" x2="526.46" y2="276.90" stroke="#f7f7f7" stroke-width="1.0"/>
<line x1="532.50" y1="165.80" x2="532.50" y2="276.90" stroke="#f7f7f7" stroke-width="1.0"/>
<line x1="538.54" y1="165.80" x2="538.54" y2="276.90" stroke="#f7f7f7" stroke-width="1.0"/>
<line x1="544.58" y1="165.80" x2="544.58" y2="276.90" stroke="#f7f7f7" stroke-width="1.0"/>
<line x1="550.62" y1="165.80" x2="550.62" y2="276.90" stroke="#f7f7f7" stroke-width="1.0"/>
<line x1="556.66" y1="165.80" x2="556.66" y2="276.90" stroke="#f7f7f7" stroke-width="1.0"/>
<line x1="562.70" y1="165.80" x2="562.70" y2="276.90" stroke="#f7f7f7" stroke-width="1.0"/>
<line x1="568.74" y1="165.80" x2="568.74" y2="276.90" stroke="#f7f7f7" stroke-width="1.0"/>
<line x1="574.78" y1="165.80" x2="574.78" y2="276.90" stroke="#f7f7f7" stroke-width="1.0"/>
<line x1="580.82" y1="165.80" x2="580.82" y2="276.90" stroke="#f7f7f7" stroke-width="1.0"/>
<line x1="586.86" y1="165.80" x2="586.86" y2="276.90" stroke="#f7f7f7" stroke-width="1.0"/>
<line x1="592.90" y1="165.80" x2="592.90" y2="276.90" stroke="#f7f7f7" stroke-width="1.0"/>
<line x1="598.94" y1="165.80" x2="598.94" y2="276.90" stroke="#f7f7f7" stroke-width="1.0"/>
<line x1="604.98" y1="165.80" x2="604.98" y2="276.90" stroke="#f7f7f7" stroke-width="1.0"/>
<line x1="611.02" y1="165.80" x2="611.02" y2="276.90" stroke="#f7f7f7" stroke-width="1.0"/>
<line x1="617.06" y1="165.80" x2="617.06" y2="276.90" stroke="#f7f7f7" stroke-width="1.0"/>
<line x1="623.10" y1="165.80" x2="623.10" y2="276.90" stroke="#f7f7f7" stroke-width="1.0"/>
<line x1="629.14" y1="165.80" x2="629.14" y2="276.90" stroke="#f7f7f7" stroke-width="1.0"/>
<line x1="635.18" y1="165.80" x2="635.18" y2="276.90" stroke="#f7f7f7" stroke-width="1.0"/>
<line x1="641.22" y1="165.80" x2="641.22" y2="276.90" stroke="#f7f7f7" stroke-width="1.0"/>
<line x1="647.26" y1="165.80" x2="647.26" y2="276.90" stroke="#f7f7f7" stroke-width="1.0"/>
<line x1="653.30" y1="165.80" x2="653.30" y2="276.90" stroke="#f7f7f7" stroke-width="1.0"/>
<line x1="659.34" y1="165.80" x2="659.34" y2="276.90" stroke="#f7f7f7" stroke-width="1.0"/>
<line x1="665.38" y1="165.80" x2="665.38" y2="276.90" stroke="#f7f7f7" stroke-width="1.0"/>
<line x1="671.42" y1="165.80" x2="671.42" y2="276.90" stroke="#f7f7f7" stroke-width="1.0"/>
<line x1="677.46" y1="165.80" x2="677.46" y2="276.90" stroke="#f7f7f7" stroke-width="1.0"/>
<line x1="683.50" y1="165.80" x2="683.50" y2="276.90" stroke="#f7f7f7" stroke-width="1.0"/>
<line x1="502.30" y1="276.90" x2="683.50" y2="276.90" stroke="#ececec" stroke-width="1.2"/>
<text x="495.00" y="279.40" text-anchor="end" font-size="7.9" textLength="4.00" lengthAdjust="spacingAndGlyphs" fill="#2a2a2a" stroke="#2a2a2a" stroke-width="0.22">0</text>
<line x1="502.30" y1="263.01" x2="683.50" y2="263.01" stroke="#ececec" stroke-width="1.2"/>
<text x="495.00" y="265.51" text-anchor="end" font-size="7.9" textLength="10.01" lengthAdjust="spacingAndGlyphs" fill="#2a2a2a" stroke="#2a2a2a" stroke-width="0.22">0,5</text>
<line x1="502.30" y1="249.12" x2="683.50" y2="249.12" stroke="#ececec" stroke-width="1.2"/>
<text x="495.00" y="251.62" text-anchor="end" font-size="7.9" textLength="4.00" lengthAdjust="spacingAndGlyphs" fill="#2a2a2a" stroke="#2a2a2a" stroke-width="0.22">1</text>
<line x1="502.30" y1="235.24" x2="683.50" y2="235.24" stroke="#ececec" stroke-width="1.2"/>
<text x="495.00" y="237.74" text-anchor="end" font-size="7.9" textLength="10.01" lengthAdjust="spacingAndGlyphs" fill="#2a2a2a" stroke="#2a2a2a" stroke-width="0.22">1,5</text>
<line x1="502.30" y1="221.35" x2="683.50" y2="221.35" stroke="#ececec" stroke-width="1.2"/>
<text x="495.00" y="223.85" text-anchor="end" font-size="7.9" textLength="4.00" lengthAdjust="spacingAndGlyphs" fill="#2a2a2a" stroke="#2a2a2a" stroke-width="0.22">2</text>
<line x1="502.30" y1="207.46" x2="683.50" y2="207.46" stroke="#ececec" stroke-width="1.2"/>
<text x="495.00" y="209.96" text-anchor="end" font-size="7.9" textLength="10.01" lengthAdjust="spacingAndGlyphs" fill="#2a2a2a" stroke="#2a2a2a" stroke-width="0.22">2,5</text>
<line x1="502.30" y1="193.57" x2="683.50" y2="193.57" stroke="#ececec" stroke-width="1.2"/>
<text x="495.00" y="196.07" text-anchor="end" font-size="7.9" textLength="4.00" lengthAdjust="spacingAndGlyphs" fill="#2a2a2a" stroke="#2a2a2a" stroke-width="0.22">3</text>
<line x1="502.30" y1="179.69" x2="683.50" y2="179.69" stroke="#ececec" stroke-width="1.2"/>
<text x="495.00" y="182.19" text-anchor="end" font-size="7.9" textLength="10.01" lengthAdjust="spacingAndGlyphs" fill="#2a2a2a" stroke="#2a2a2a" stroke-width="0.22">3,5</text>
<line x1="502.30" y1="165.80" x2="683.50" y2="165.80" stroke="#ececec" stroke-width="1.2"/>
<text x="495.00" y="168.30" text-anchor="end" font-size="7.9" textLength="4.00" lengthAdjust="spacingAndGlyphs" fill="#2a2a2a" stroke="#2a2a2a" stroke-width="0.22">4</text>
<text x="502.30" y="289.70" text-anchor="middle" font-size="7.9" textLength="4.00" lengthAdjust="spacingAndGlyphs" fill="#2a2a2a" stroke="#2a2a2a" stroke-width="0.22">0</text>
<text x="532.50" y="289.70" text-anchor="middle" font-size="7.9" textLength="10.01" lengthAdjust="spacingAndGlyphs" fill="#2a2a2a" stroke="#2a2a2a" stroke-width="0.22">0,5</text>
<text x="562.70" y="289.70" text-anchor="middle" font-size="7.9" textLength="4.00" lengthAdjust="spacingAndGlyphs" fill="#2a2a2a" stroke="#2a2a2a" stroke-width="0.22">1</text>
<text x="592.90" y="289.70" text-anchor="middle" font-size="7.9" textLength="10.01" lengthAdjust="spacingAndGlyphs" fill="#2a2a2a" stroke="#2a2a2a" stroke-width="0.22">1,5</text>
<text x="623.10" y="289.70" text-anchor="middle" font-size="7.9" textLength="4.00" lengthAdjust="spacingAndGlyphs" fill="#2a2a2a" stroke="#2a2a2a" stroke-width="0.22">2</text>
<text x="653.30" y="289.70" text-anchor="middle" font-size="7.9" textLength="10.01" lengthAdjust="spacingAndGlyphs" fill="#2a2a2a" stroke="#2a2a2a" stroke-width="0.22">2,5</text>
<text x="683.50" y="289.70" text-anchor="middle" font-size="7.9" textLength="4.00" lengthAdjust="spacingAndGlyphs" fill="#2a2a2a" stroke="#2a2a2a" stroke-width="0.22">3</text>
<text x="560.30" y="301.00" textLength="65.4" lengthAdjust="spacingAndGlyphs" font-size="7.8" fill="#363636" stroke="#363636" stroke-width="0.14">Effective dose (mSv)</text>
<text transform="translate(469.20,252.10) rotate(-90)" textLength="48.6" lengthAdjust="spacingAndGlyphs" font-size="7.3" fill="#363636" stroke="#363636" stroke-width="0.14">CNR kidney:fat</text>
<text transform="translate(478.60,280.00) rotate(-90)" textLength="104.9" lengthAdjust="spacingAndGlyphs" font-size="7.3" fill="#363636" stroke="#363636" stroke-width="0.14">[(kidney HU - fat HU)/kidney SD]</text>
<line x1="509.55" y1="262.77" x2="683.50" y2="190.56" stroke="#9c9c9c" stroke-width="1.1" stroke-dasharray="1.2 1.25"/>
<line x1="516.31" y1="261.83" x2="630.83" y2="239.26" stroke="#404040" stroke-width="1.2" stroke-dasharray="1.2 1.25"/>
<circle cx="509.55" cy="266.07" r="2.3" fill="#bfbfbf"/>
<circle cx="515.35" cy="256.62" r="2.3" fill="#bfbfbf"/>
<circle cx="524.83" cy="252.74" r="2.3" fill="#bfbfbf"/>
<circle cx="536.91" cy="254.96" r="2.3" fill="#bfbfbf"/>
<circle cx="547.60" cy="251.90" r="2.3" fill="#bfbfbf"/>
<circle cx="559.08" cy="233.85" r="2.3" fill="#bfbfbf"/>
<circle cx="571.64" cy="241.90" r="2.3" fill="#bfbfbf"/>
<circle cx="578.52" cy="236.63" r="2.3" fill="#bfbfbf"/>
<circle cx="589.16" cy="226.35" r="2.3" fill="#bfbfbf"/>
<circle cx="516.31" cy="261.90" r="2.3" fill="#7a7a7a"/>
<circle cx="521.02" cy="261.90" r="2.3" fill="#7a7a7a"/>
<circle cx="537.27" cy="256.35" r="2.3" fill="#7a7a7a"/>
<circle cx="572.97" cy="250.79" r="2.3" fill="#7a7a7a"/>
<circle cx="630.83" cy="239.40" r="2.3" fill="#7a7a7a"/>
<rect x="582.02" y="243.79" width="4.0" height="4.0" fill="#000"/>
<polygon points="667.98,222.16 670.78,227.48 665.18,227.48" fill="#000"/>
<text x="461.90" y="167.50" font-size="11" fill="#111">e<tspan font-size="12.5" dx="0.3" dy="-0.3">)</tspan></text>
<!-- legend -->
<circle cx="556.3" cy="22.7" r="2.2" fill="#bfbfbf"/>
<circle cx="556.3" cy="36.3" r="2.2" fill="#7a7a7a"/>
<rect x="554.4" y="47.800000000000004" width="3.8" height="3.8" fill="#000"/>
<polygon points="556.3,60.7 558.9,65.2 553.6999999999999,65.2" fill="#000"/>
<line x1="550.2" y1="76.9" x2="563" y2="76.9" stroke="#9a9a9a" stroke-width="1.1" stroke-dasharray="1.2 1.6"/>
<line x1="550.2" y1="90.5" x2="563" y2="90.5" stroke="#404040" stroke-width="1.1" stroke-dasharray="1.2 1.6"/>
<text x="563.9" y="25.80" textLength="30.8" lengthAdjust="spacingAndGlyphs" font-size="8.5" fill="#464646" stroke="#464646" stroke-width="0.04">Sn100kV</text>
<text x="563.9" y="39.00" textLength="30.8" lengthAdjust="spacingAndGlyphs" font-size="8.5" fill="#464646" stroke="#464646" stroke-width="0.04">Sn140kV</text>
<text x="563.9" y="52.40" textLength="49.8" lengthAdjust="spacingAndGlyphs" font-size="8.5" fill="#464646" stroke="#464646" stroke-width="0.04">120kV/20mAs</text>
<text x="563.9" y="65.90" textLength="49.8" lengthAdjust="spacingAndGlyphs" font-size="8.5" fill="#464646" stroke="#464646" stroke-width="0.04">120kV/40mAs</text>
<text x="563.9" y="79.60" textLength="60.1" lengthAdjust="spacingAndGlyphs" font-size="8.5" fill="#464646" stroke="#464646" stroke-width="0.04">Linear (Sn100kV)</text>
<text x="563.9" y="93.20" textLength="60.1" lengthAdjust="spacingAndGlyphs" font-size="8.5" fill="#464646" stroke="#464646" stroke-width="0.04">Linear (Sn140kV)</text>
</svg>
</body></html>
